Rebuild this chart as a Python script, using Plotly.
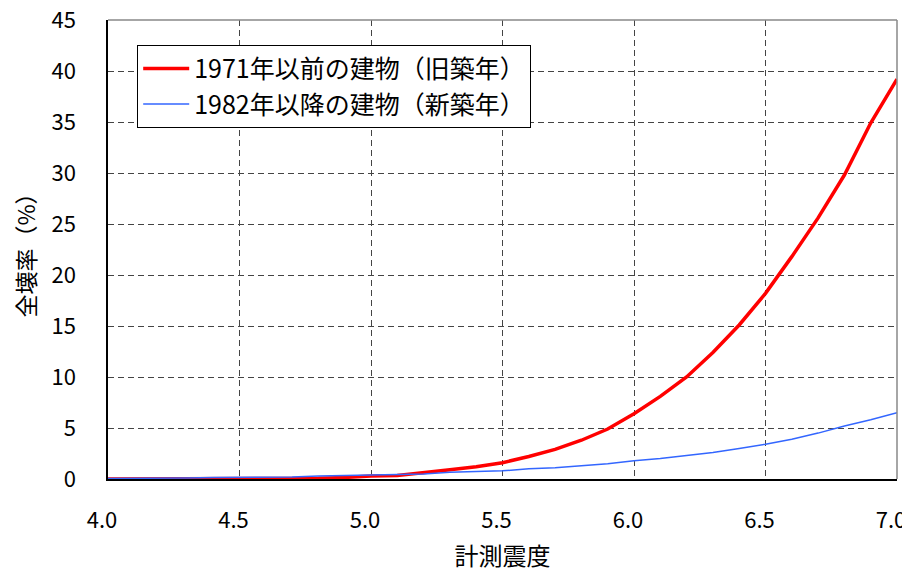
import plotly.graph_objects as go

intensity = [4.0, 4.1, 4.2, 4.3, 4.4, 4.5, 4.6, 4.7, 4.8, 4.9, 5.0, 5.1, 5.2, 5.3, 5.4, 5.5,
             5.6, 5.7, 5.8, 5.9, 6.0, 6.1, 6.2, 6.3, 6.4, 6.5, 6.6, 6.7, 6.8, 6.9, 7.0]
old_rate = [0.0, 0.0, 0.0, 0.0, 0.0, 0.0, 0.0, 0.02, 0.08, 0.15, 0.3, 0.35, 0.6, 0.9, 1.2, 1.6,
            2.2, 2.9, 3.8, 4.9, 6.4, 8.1, 10.0, 12.4, 15.1, 18.2, 21.8, 25.6, 29.8, 34.9, 39.2]
new_rate = [0.05, 0.05, 0.05, 0.1, 0.15, 0.15, 0.15, 0.2, 0.3, 0.35, 0.4, 0.4, 0.5, 0.65, 0.75, 0.8,
            1.0, 1.1, 1.3, 1.5, 1.8, 2.0, 2.3, 2.6, 3.0, 3.4, 3.9, 4.5, 5.2, 5.8, 6.5]
x_ticks = [4.0, 4.5, 5.0, 5.5, 6.0, 6.5, 7.0]
y_ticks = [0, 5, 10, 15, 20, 25, 30, 35, 40, 45]

FONT = "Noto Sans CJK JP"
GRID = "#444444"

fig = go.Figure()
fig.add_trace(go.Scatter(x=intensity, y=old_rate, mode="lines",
                         name="1971年以前の建物（旧築年）",
                         line=dict(color="#ff0000", width=3.5)))
fig.add_trace(go.Scatter(x=intensity, y=new_rate, mode="lines",
                         name="1982年以降の建物（新築年）",
                         line=dict(color="#3366ff", width=1.5)))

fig.update_layout(
    width=910, height=570,
    margin=dict(l=100, r=21, t=12, b=99),
    paper_bgcolor="white", plot_bgcolor="white",
    font=dict(family=FONT, size=22, color="black"),
    legend=dict(x=0.037, y=0.946, xanchor="left", yanchor="top",
                bordercolor="black", borderwidth=1, bgcolor="white",
                itemwidth=46,
                font=dict(size=25, family=FONT), tracegroupgap=0),
    showlegend=True,
)
fig.update_xaxes(
    range=[4.0, 7.0], tickvals=x_ticks, ticktext=[f"{v:.1f}" for v in x_ticks],
    tickfont=dict(size=22),
    showgrid=True, gridcolor=GRID, griddash="6px,4px", gridwidth=1,
    showline=True, linecolor="black", linewidth=1.5, mirror=False,
    ticks="", ticklabelstandoff=21, ticklabeloverflow="allow", ticklabelshift=-6,
    zeroline=False, automargin=False,
    title=dict(text="計測震度", font=dict(size=24), standoff=15),
)
fig.update_yaxes(
    range=[0, 45], tickvals=y_ticks,
    tickfont=dict(size=22),
    showgrid=True, gridcolor=GRID, griddash="6px,4px", gridwidth=1,
    showline=True, linecolor="black", linewidth=1.5,
    ticks="", ticklabelstandoff=26, ticklabeloverflow="allow",
    zeroline=False, automargin=False,
    title=dict(text="全壊率（%）", font=dict(size=23), standoff=18),
)
# grey frame top/right
fig.add_shape(type="line", xref="paper", yref="paper", x0=0, x1=1, y0=1, y1=1,
              line=dict(color="#888888", width=1.5))
fig.add_shape(type="line", xref="paper", yref="paper", x0=1, x1=1, y0=0, y1=1,
              line=dict(color="#888888", width=1.5))
fig.write_html("out.html")
